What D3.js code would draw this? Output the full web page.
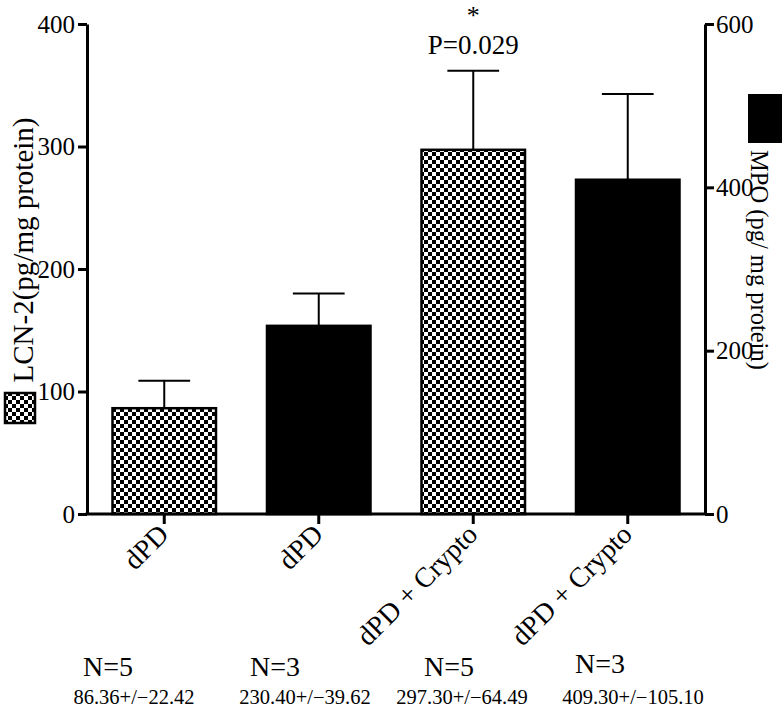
<!DOCTYPE html>
<html>
<head>
<meta charset="utf-8">
<script src="https://cdn.jsdelivr.net/npm/d3@7"></script>
<style>
  html, body { margin: 0; padding: 0; background: #fff; }
  svg text { font-family: "Liberation Serif", "DejaVu Serif", serif; fill: #000; }
</style>
</head>
<body>
<svg id="chart" width="784" height="711"></svg>
<script>
// ---- data ----
const categories = ["dPD", "dPD", "dPD + Crypto", "dPD + Crypto"];
const means = [86.36, 230.40, 297.30, 409.30];
const sems = [22.42, 39.62, 64.49, 105.10];
const seriesAxis = ["LCN-2", "MPO", "LCN-2", "MPO"];
const nLabels = ["N=5", "N=3", "N=5", "N=3"];
const statLabels = ["86.36+/\u221222.42", "230.40+/\u221239.62", "297.30+/\u221264.49", "409.30+/\u2212105.10"];
const leftTicks = [0, 100, 200, 300, 400];
const rightTicks = [0, 200, 400, 600];
const leftTitle = "LCN-2(pg/mg protein)";
const rightTitle = "MPO (pg/ mg protein)";
const sigStar = "*";
const sigP = "P=0.029";

// ---- layout ----
const svg = d3.select("#chart");
const X0 = 87, X1 = 705, Y0 = 514, Y1 = 24;

const x = d3.scaleBand().domain(d3.range(categories.length)).range([X0, X1]).paddingInner(0.33).paddingOuter(0.165);
const yL = d3.scaleLinear().domain([0, 400]).range([Y0, Y1]);
const yR = d3.scaleLinear().domain([0, 600]).range([Y0, Y1]);
const yFor = i => seriesAxis[i] === "LCN-2" ? yL : yR;

// checker pattern
const defs = svg.append("defs");
const pat = defs.append("pattern").attr("id", "checker").attr("patternUnits", "userSpaceOnUse")
  .attr("width", 8).attr("height", 8);
pat.append("rect").attr("width", 8).attr("height", 8).attr("fill", "#fff");
pat.append("rect").attr("x", 0).attr("y", 0).attr("width", 4).attr("height", 4).attr("fill", "#000");
pat.append("rect").attr("x", 4).attr("y", 4).attr("width", 4).attr("height", 4).attr("fill", "#000");

const fillFor = i => seriesAxis[i] === "LCN-2" ? "url(#checker)" : "#000";

// bars
svg.append("g").selectAll("rect").data(means).join("rect")
  .attr("x", (d, i) => x(i))
  .attr("y", (d, i) => yFor(i)(d))
  .attr("width", x.bandwidth())
  .attr("height", (d, i) => Y0 - yFor(i)(d))
  .attr("fill", (d, i) => fillFor(i))
  .attr("stroke", "#000").attr("stroke-width", 2.5);

// error bars (upper only)
const eg = svg.append("g").attr("stroke", "#000").attr("stroke-width", 2);
means.forEach((m, i) => {
  const cx = x(i) + x.bandwidth() / 2;
  const y = yFor(i);
  eg.append("line").attr("x1", cx).attr("x2", cx).attr("y1", y(m)).attr("y2", y(m + sems[i]));
  eg.append("line").attr("x1", cx - x.bandwidth() / 4).attr("x2", cx + x.bandwidth() / 4)
    .attr("y1", y(m + sems[i])).attr("y2", y(m + sems[i]));
});

// axes
const axL = svg.append("g").attr("transform", `translate(${X0},0)`)
  .call(d3.axisLeft(yL).tickValues(leftTicks).tickSize(9).tickPadding(3).tickSizeOuter(0));
const axR = svg.append("g").attr("transform", `translate(${X1},0)`)
  .call(d3.axisRight(yR).tickValues(rightTicks).tickSize(9).tickPadding(2).tickSizeOuter(0));
const axB = svg.append("g").attr("transform", `translate(0,${Y0})`)
  .call(d3.axisBottom(x).tickSize(10).tickSizeOuter(0).tickFormat(""));
[axL, axR, axB].forEach(a => {
  a.select(".domain").attr("stroke", "#000").attr("stroke-width", 3);
  a.selectAll(".tick line").attr("stroke", "#000").attr("stroke-width", 3);
});
axB.select(".domain").attr("d", `M${X0 - 1.5},0H${X1 + 1.5}`);
axL.selectAll(".tick text").style("font-size", "25px").style("font-family", "Liberation Serif, serif").attr("fill", "#000");
axR.selectAll(".tick text").style("font-size", "25px").style("font-family", "Liberation Serif, serif").attr("fill", "#000");

// x labels rotated
svg.append("g").selectAll("text").data(categories).join("text")
  .attr("transform", (d, i) => `translate(${x(i) + x.bandwidth() / 2 + 6},${Y0 + 22}) rotate(-45)`)
  .attr("text-anchor", "end")
  .style("font-size", "28px")
  .text(d => d);

// N labels and stats
const nX = [108, 275, 449, 600];
const nY = [676, 676, 676, 673];
const sX = [134, 305, 462, 633];
svg.append("g").selectAll("text").data(nLabels).join("text")
  .attr("x", (d, i) => nX[i])
  .attr("y", (d, i) => nY[i])
  .attr("text-anchor", "middle")
  .style("font-size", "28px")
  .text(d => d);
svg.append("g").selectAll("text").data(statLabels).join("text")
  .attr("x", (d, i) => sX[i])
  .attr("y", 704)
  .attr("text-anchor", "middle")
  .style("font-size", "20.5px")
  .text(d => d);

// significance
const c3 = x(2) + x.bandwidth() / 2;
svg.append("text").attr("x", c3).attr("y", 24).attr("text-anchor", "middle").style("font-size", "26px").text(sigStar);
svg.append("text").attr("x", c3).attr("y", 54).attr("text-anchor", "middle").style("font-size", "27px").text(sigP);

// axis titles
svg.append("text").attr("transform", "translate(33,250) rotate(-90)").attr("text-anchor", "middle")
  .style("font-size", "29px").text(leftTitle);
svg.append("text").attr("transform", "translate(751,150) rotate(90)").attr("text-anchor", "start")
  .style("font-size", "24.5px").text(rightTitle);

// legend swatches
svg.append("rect").attr("x", 5).attr("y", 393).attr("width", 30).attr("height", 30)
  .attr("fill", "url(#checker)").attr("stroke", "#000").attr("stroke-width", 2.5);
svg.append("rect").attr("x", 748).attr("y", 94).attr("width", 34).attr("height", 49).attr("fill", "#000");
</script>
</body>
</html>
